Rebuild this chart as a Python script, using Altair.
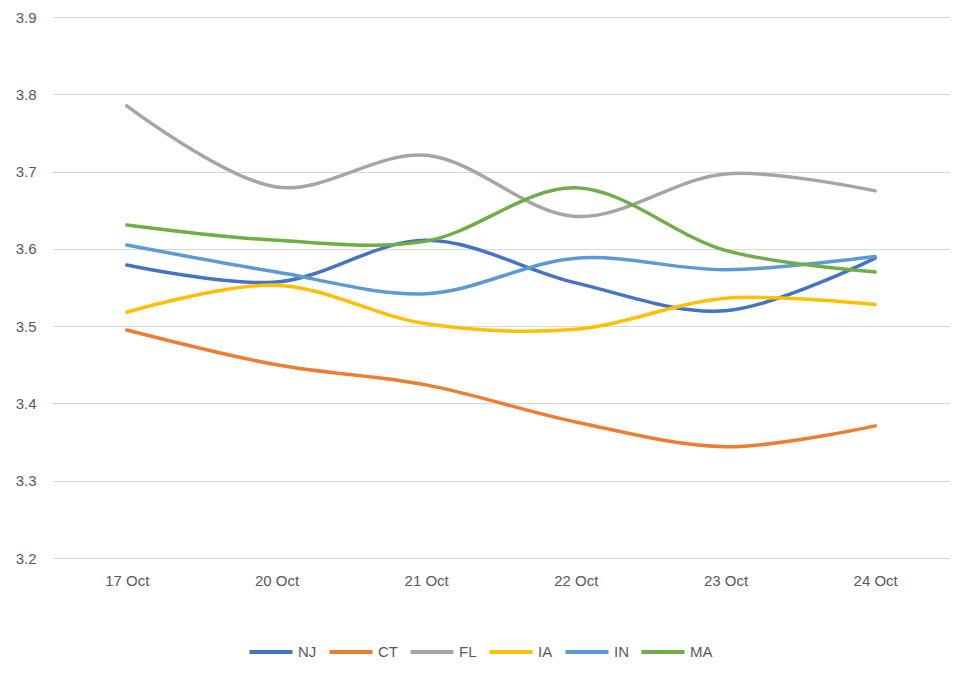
import altair as alt
import pandas as pd

dates = ["17 Oct", "20 Oct", "21 Oct", "22 Oct", "23 Oct", "24 Oct"]
series = ["NJ", "CT", "FL", "IA", "IN", "MA"]
colors = ["#4472C4", "#ED7D31", "#A5A5A5", "#FFC000", "#5B9BD5", "#70AD47"]
NJ = [3.579, 3.557, 3.611, 3.556, 3.520, 3.588]
CT = [3.495, 3.450, 3.424, 3.376, 3.344, 3.371]
FL = [3.785, 3.680, 3.721, 3.642, 3.697, 3.675]
IA = [3.518, 3.553, 3.503, 3.496, 3.536, 3.528]
IN = [3.605, 3.570, 3.542, 3.588, 3.573, 3.590]
MA = [3.631, 3.611, 3.610, 3.679, 3.598, 3.570]
values = {"NJ": NJ, "CT": CT, "FL": FL, "IA": IA, "IN": IN, "MA": MA}

rows = []
for s in series:
    for d, v in zip(dates, values[s]):
        rows.append({"date": d, "state": s, "value": v})
df = pd.DataFrame(rows)

font = "Liberation Sans"
grey = "#595959"

chart = alt.Chart(df).mark_line(
    interpolate="catmull-rom", strokeWidth=3.5, strokeCap="round"
).encode(
    x=alt.X("date:O", sort=dates, title=None,
            scale=alt.Scale(type="point", padding=0.5),
            axis=alt.Axis(labelAngle=0, ticks=False, domain=False, grid=False,
                          labelPadding=15, labelFontSize=15, labelColor=grey,
                          labelFont=font)),
    y=alt.Y("value:Q", title=None,
            scale=alt.Scale(domain=[3.2, 3.9], zero=False, nice=False),
            axis=alt.Axis(values=[3.2, 3.3, 3.4, 3.5, 3.6, 3.7, 3.8, 3.9],
                          format=".1f", ticks=False, domain=False,
                          gridColor="#D9D9D9", gridWidth=1, labelPadding=16,
                          labelFontSize=15, labelColor=grey, labelFont=font)),
    color=alt.Color("state:N", sort=series,
                    scale=alt.Scale(domain=series, range=colors),
                    legend=alt.Legend(orient="none", direction="horizontal",
                                      legendX=195, legendY=611, title=None,
                                      symbolType="stroke", symbolSize=1850,
                                      symbolStrokeWidth=4, labelFontSize=15,
                                      labelColor=grey, labelFont=font,
                                      columnPadding=4, labelOffset=3)),
    order=alt.Order("state:N"),
).properties(
    width=898, height=541,
    autosize=alt.AutoSizeParams(type="none"),
    padding={"left": 44, "top": 9, "right": 0, "bottom": 110},
).configure_view(stroke=None)

chart.save("out.html", embed_options={"renderer": "svg", "actions": False})
